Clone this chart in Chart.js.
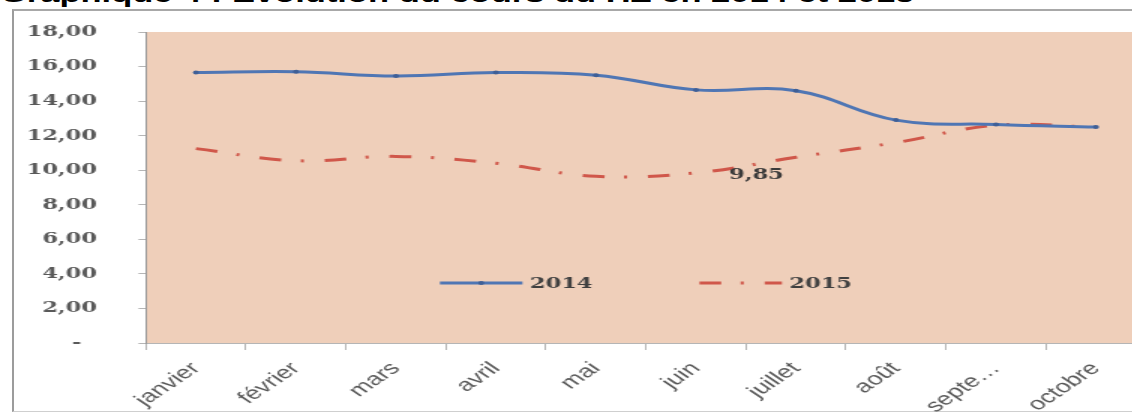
<!DOCTYPE html>
<html lang="fr">
<head>
<meta charset="utf-8">
<title>Evolution du cours du HZ en 2014 et 2015</title>
<script src="https://cdn.jsdelivr.net/npm/chart.js@4"></script>
<style>
    html, body { margin: 0; padding: 0; background: #fff; overflow: hidden; }
    body { width: 1132px; height: 414px; position: relative; }
    /* le graphique d'origine est étiré horizontalement : on garde le même rapport */
    .titre {
        position: absolute; left: 0; top: -19px;
        font: bold 23px "Liberation Sans", Arial, sans-serif; line-height: 27px;
        color: #000; white-space: nowrap;
        transform: scaleX(1.5); transform-origin: 0 0;
    }
    .cadre {
        position: absolute; left: 12px; top: 9px; width: 1140px; height: 400px;
        border-left: 2px solid #9c9c9c; border-top: 2px solid #a8a8a8; border-bottom: 1px solid #cfcfcf;
        background: #fff;
    }
    .zone {
        position: absolute; left: 0; top: 0; width: 768px; height: 414px;
        transform: scaleX(1.5); transform-origin: 0 0;
    }
</style>
</head>
<body>
<div class="titre">Graphique 4 : Evolution du cours du HZ en 2014 et 2015</div>
<div class="cadre"></div>
<div class="zone"><canvas id="chartCours"></canvas></div>

<script>
// Données
const mois = ['janvier', 'février', 'mars', 'avril', 'mai', 'juin', 'juillet', 'août', 'septe…', 'octobre'];
const cours2014 = [15.65, 15.7, 15.45, 15.65, 15.5, 14.65, 14.6, 12.9, 12.65, 12.5];
const cours2015 = [11.25, 10.55, 10.8, 10.4, 9.65, 9.85, 10.75, 11.6, 12.6, 12.5];
const graduations = [0, 2, 4, 6, 8, 10, 12, 14, 16, 18];
const etiquettes2015 = [5]; // seul point annoté (juin)

const fmt = v => v === 0 ? '-  ' : v.toFixed(2).replace('.', ',');

const policeChiffres = { family: '"DejaVu Serif", serif', size: 15, weight: 'bold' };

// Fond saumon de la zone de traçage
const fondZone = {
    id: 'fondZone',
    beforeDraw(chart) {
        const { ctx, chartArea: a } = chart;
        ctx.save();
        ctx.fillStyle = '#efcfba';
        ctx.fillRect(a.left, a.top, a.right - a.left, a.bottom - a.top);
        ctx.restore();
    }
};

// Légende posée dans la zone de traçage, comme dans Excel
const legendeInterne = {
    id: 'legendeInterne',
    afterDatasetsDraw(chart) {
        const { ctx, chartArea: a } = chart;
        const y = a.top + 251;
        const departs = [a.left + 196, a.left + 369];
        const longueur = 55;

        chart.data.datasets.forEach((ds, i) => {
            const x = departs[i];
            ctx.save();
            ctx.strokeStyle = ds.borderColor;
            ctx.lineWidth = ds.borderWidth;
            ctx.setLineDash(ds.borderDash || []);
            ctx.beginPath();
            ctx.moveTo(x, y);
            ctx.lineTo(x + longueur, y);
            ctx.stroke();
            if (ds.pointRadius) {
                ctx.fillStyle = ds.pointBackgroundColor;
                ctx.beginPath();
                ctx.arc(x + longueur / 2, y, ds.pointRadius, 0, Math.PI * 2);
                ctx.fill();
            }
            ctx.fillStyle = '#404040';
            ctx.font = 'bold 15px "DejaVu Serif", serif';
            ctx.textBaseline = 'middle';
            ctx.fillText(ds.label, x + longueur + 5, y + 1);
            ctx.restore();
        });
    }
};

// Étiquette de valeur à droite des points choisis
const etiquettesValeurs = {
    id: 'etiquettesValeurs',
    afterDatasetsDraw(chart) {
        const { ctx } = chart;
        const meta = chart.getDatasetMeta(1);
        ctx.save();
        ctx.fillStyle = '#3a3a3a';
        ctx.font = 'bold 15px "DejaVu Serif", serif';
        ctx.textBaseline = 'middle';
        etiquettes2015.forEach(i => {
            const p = meta.data[i];
            ctx.fillText(fmt(cours2015[i]), p.x + 22, p.y + 2);
        });
        ctx.restore();
    }
};

new Chart(document.getElementById('chartCours'), {
    type: 'line',
    data: {
        labels: mois,
        datasets: [
            {
                label: '2014',
                data: cours2014,
                borderColor: '#4f76b4',
                borderWidth: 3,
                pointRadius: 2,
                pointBackgroundColor: '#3f5f96',
                pointBorderWidth: 0,
                tension: 0.4
            },
            {
                label: '2015',
                data: cours2015,
                borderColor: '#d0574a',
                borderWidth: 3,
                borderDash: [14.5, 13, 2, 14],
                pointRadius: 0,
                tension: 0.4
            }
        ]
    },
    options: {
        responsive: true,
        maintainAspectRatio: false,
        animation: false,
        layout: { padding: { top: 32, right: 4, bottom: 0, left: 0 } },
        plugins: {
            legend: { display: false },
            tooltip: { enabled: false }
        },
        scales: {
            x: {
                offset: true,
                afterFit: s => { s.height = 71; },
                border: { color: '#b5b5b5', width: 1 },
                grid: { offset: true, drawOnChartArea: false, tickLength: 7, color: '#b5b5b5' },
                ticks: {
                    autoSkip: false, maxRotation: 45, minRotation: 45, padding: 8,
                    color: '#595959',
                    font: { family: '"Liberation Sans", Arial, sans-serif', size: 18 }
                }
            },
            y: {
                min: 0,
                max: 18,
                // largeur fixe ; le grand écart des libellés ne doit pas rogner le haut
                afterFit: s => { s.width = 97.3; s.paddingTop = 10; s.paddingBottom = 10; },
                afterBuildTicks: s => { s.ticks = graduations.map(v => ({ value: v })); },
                border: { color: '#9a9a9a', width: 1 },
                grid: { drawOnChartArea: false, tickLength: 5, color: '#b5b5b5' },
                ticks: {
                    padding: 27.6,
                    color: '#595959',
                    font: policeChiffres,
                    callback: v => fmt(v)
                }
            }
        }
    },
    plugins: [fondZone, legendeInterne, etiquettesValeurs]
});
</script>
</body>
</html>
